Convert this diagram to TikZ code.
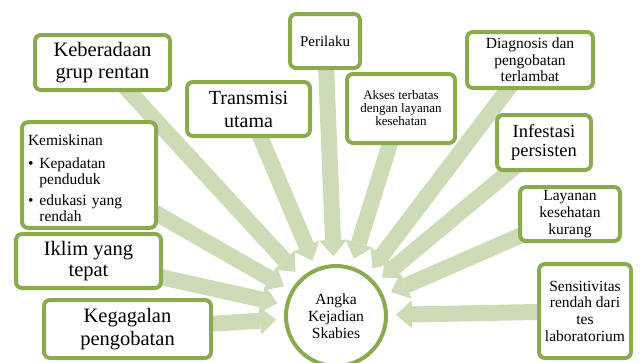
\documentclass[tikz,border=0pt]{standalone}
\usepackage{fontspec}
\setmainfont{Liberation Serif}
\usetikzlibrary{arrows.meta,backgrounds}

\definecolor{boxgreen}{RGB}{140,170,80}
\definecolor{arrowgreen}{RGB}{205,220,182}
\newcommand{\fsz}[2]{\fontsize{#1}{#2}\selectfont}

\tikzset{
  cause/.style={draw=boxgreen, line width=4pt, rounded corners=6pt, fill=white, align=center, inner sep=2pt},
  hubnode/.style={draw=boxgreen, line width=4pt, circle, fill=white, align=center, minimum size=100pt},
  feed/.style={draw=arrowgreen, line width=16pt, -{Triangle[width=28pt,length=16pt,line width=0pt]}, shorten >=8pt}
}

\begin{document}
\begin{tikzpicture}[x=1pt,y=-1pt]
        \useasboundingbox (0,0) rectangle (642,362);
        \node[hubnode, font=\fsz{15.5}{16.7}] (hub) at (336,316) {Angka\\Kejadian\\Skabies};
        \node[cause, minimum width=135pt, minimum height=55pt, font=\fsz{20.5}{22.5}] (kebe) at (102.5,62.5) {Keberadaan\\grup rentan};
        \node[cause, minimum width=123pt, minimum height=54pt, font=\fsz{20}{23}] (trans) at (248.5,109) {Transmisi\\utama};
        \node[cause, minimum width=70pt, minimum height=54pt, font=\fsz{15}{16}] (peri) at (325,41) {Perilaku};
        \node[cause, minimum width=108pt, minimum height=69pt, font=\fsz{13}{13}] (akses) at (401,108.5) {Akses terbatas\\dengan layanan\\kesehatan};
        \node[cause, minimum width=126pt, minimum height=56pt, font=\fsz{15.5}{16.5}] (diag) at (530,60) {Diagnosis dan\\pengobatan\\terlambat};
        \node[cause, minimum width=94pt, minimum height=55pt, font=\fsz{18.5}{19.5}] (infes) at (544,142.5) {Infestasi\\persisten};
        \node[cause, minimum width=100pt, minimum height=54pt, font=\fsz{15.5}{16.7}] (layan) at (570,214) {Layanan\\kesehatan\\kurang};
        \node[cause, minimum width=92pt, minimum height=94pt, font=\fsz{15.5}{16.7}] (sensi) at (585,311) {Sensitivitas\\rendah dari\\tes\\laboratorium};
        \node[cause, text width=122pt, inner xsep=6pt, align=left, minimum height=100pt, font=\fsz{15.5}{15.5}] (miskin) at (89,175) {%
          \begin{tabular}{@{}l@{\hspace{6pt}}l@{}}
          \multicolumn{2}{@{}l@{}}{\rule{0pt}{21pt}Kemiskinan}\\[8pt]
          \textbullet & Kepadatan\\
                      & penduduk\\[6pt]
          \textbullet & edukasi yang\\
                      & rendah
          \end{tabular}};
        \node[cause, minimum width=145pt, minimum height=54pt, font=\fsz{20.5}{21.5}] (iklim) at (88.5,261) {Iklim yang\\tepat};
        \node[cause, minimum width=167pt, minimum height=58pt, font=\fsz{20.5}{23}] (gagal) at (127.5,329) {Kegagalan\\pengobatan};
        \begin{scope}[on background layer]
        \draw[feed] (kebe.center) -- (hub);
        \draw[feed] (trans.center) -- (hub);
        \draw[feed] (peri.center) -- (hub);
        \draw[feed] (akses.center) -- (hub);
        \draw[feed] (diag.center) -- (hub);
        \draw[feed] (infes.center) -- (hub);
        \draw[feed] (layan.center) -- (hub);
        \draw[feed] (sensi.center) -- (hub);
        \draw[feed] (miskin.center) -- (hub);
        \draw[feed] (iklim.center) -- (hub);
        \draw[feed] (gagal.center) -- (hub);
        \end{scope}
      \end{tikzpicture}
\end{document}
